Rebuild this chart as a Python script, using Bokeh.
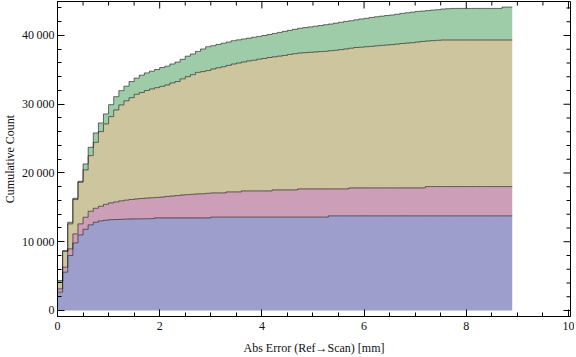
import numpy as np
from bokeh.plotting import figure
from bokeh.models import LinearAxis, SingleIntervalTicker
from bokeh.embed import file_html
from bokeh.resources import INLINE

# ---- data (cumulative counts per 0.1 mm bin, stacked boundaries) ----
bin_width = 0.1

blue_top = [2660, 5567, 7994, 9840, 11003, 11817, 12457, 12834, 13038, 13125,
            13200, 13230, 13260, 13290, 13310, 13330, 13340, 13350, 13360, 13470,
            13470, 13470, 13470, 13470, 13470, 13470, 13470, 13470, 13470, 13470,
            13580, 13580, 13580, 13580, 13580, 13580, 13580, 13580, 13580, 13580,
            13580, 13580, 13580, 13580, 13580, 13580, 13580, 13580, 13580, 13580,
            13580, 13580, 13580, 13770, 13770, 13770, 13770, 13770, 13770, 13770,
            13770, 13770, 13770, 13770, 13770, 13770, 13770, 13770, 13770, 13770,
            13770, 13770, 13770, 13770, 13770, 13770, 13770, 13770, 13770, 13770,
            13770, 13770, 13770, 13770, 13770, 13770, 13770, 13770, 13770]

pink_top = [3150, 6295, 8968, 11148, 12602, 13562, 14434, 14870, 15160, 15451,
            15654, 15800, 15950, 16050, 16150, 16230, 16290, 16350, 16400, 16450,
            16500, 16600, 16650, 16720, 16800, 16850, 16900, 16960, 16980, 17050,
            17105, 17105, 17105, 17250, 17250, 17250, 17396, 17396, 17396, 17396,
            17396, 17396, 17541, 17541, 17541, 17541, 17541, 17687, 17687, 17687,
            17687, 17687, 17687, 17687, 17687, 17687, 17687, 17830, 17830, 17830,
            17830, 17830, 17830, 17830, 17830, 17830, 17830, 17830, 17830, 17830,
            17830, 17830, 18023, 18023, 18023, 18023, 18023, 18023, 18023, 18023,
            18023, 18023, 18023, 18023, 18023, 18023, 18023, 18023, 18023]

tan_top = [4113, 8576, 12602, 16134, 18648, 20450, 22529, 24463, 26018, 27138,
           28198, 29172, 29898, 30500, 30950, 31450, 31700, 32000, 32224, 32413,
           32602, 32806, 33100, 33300, 33700, 34012, 34303, 34637, 34750, 34900,
           35130, 35300, 35450, 35650, 35850, 36000, 36150, 36300, 36400, 36550,
           36650, 36800, 36900, 37000, 37100, 37250, 37350, 37450, 37500, 37550,
           37600, 37650, 37700, 37790, 37850, 37950, 38040, 38150, 38250, 38300,
           38370, 38420, 38500, 38560, 38620, 38670, 38750, 38830, 38900, 38950,
           39050, 39140, 39200, 39250, 39300, 39344, 39344, 39344, 39344, 39344,
           39344, 39344, 39344, 39344, 39344, 39344, 39344, 39344, 39344]

green_top = [4360, 8721, 12834, 16323, 18794, 21322, 23736, 25829, 27283, 28591,
             29942, 31105, 31977, 32630, 33300, 33800, 34230, 34560, 34810, 35050,
             35340, 35540, 35858, 36140, 36530, 37000, 37312, 37690, 38040, 38372,
             38517, 38700, 38880, 39050, 39244, 39370, 39500, 39620, 39750, 39870,
             40000, 40150, 40300, 40450, 40600, 40750, 40900, 41050, 41150, 41250,
             41350, 41450, 41570, 41670, 41800, 41920, 42049, 42150, 42280, 42398,
             42500, 42631, 42720, 42820, 42900, 42980, 43100, 43213, 43300, 43400,
             43503, 43550, 43620, 43700, 43750, 43852, 43900, 43940, 43940, 43940,
             43940, 43940, 43940, 43940, 43940, 43940, 43940, 44140, 44140]

layer_colors = ["#9E9ECC", "#CC9EB8", "#CCC59E", "#9ECCA9"]

y_tick_values = [0, 10000, 20000, 30000, 40000]
y_tick_labels = ["0", "10\u2009000", "20\u2009000", "30\u2009000", "40\u2009000"]

x_label = "Abs Error (Ref\u2192Scan) [mm]"
y_label = "Cumulative Count"

X_START, X_END = 0, 10.04
Y_START, Y_END = -873, 44945
X_MAJOR, X_MINOR = 2, 0.5
Y_MAJOR, Y_MINOR = 10000, 2000

# ---- figure ----
FONT = "Liberation Serif"
p = figure(width=574, height=357, x_range=(X_START, X_END), y_range=(Y_START, Y_END),
           output_backend="svg", toolbar_location=None,
           min_border_left=56, min_border_right=4, min_border_top=1,
           min_border_bottom=41, x_axis_location=None, y_axis_location=None)
p.xgrid.visible = False
p.ygrid.visible = False
p.outline_line_color = "black"
p.outline_line_alpha = 1.0
p.background_fill_color = "white"

n = len(blue_top)
edges = np.round(np.arange(n + 1) * bin_width, 6)

def ext(v):
    return list(v) + [v[-1]]

zeros = [0] * (n + 1)
bounds = [zeros, ext(blue_top), ext(pink_top), ext(tan_top), ext(green_top)]

for i in range(4):
    p.varea_step(x=edges, y1=bounds[i], y2=bounds[i + 1], step_mode="after",
                 fill_color=layer_colors[i], fill_alpha=1.0)
for i in range(1, 5):
    p.step(x=edges, y=bounds[i], mode="after", line_color="black",
           line_alpha=0.55, line_width=1)

# ---- frame ticks on top and right (inside), as dash markers clipped by the frame ----
xt_all = np.round(np.arange(0, X_END + 1e-9, X_MINOR), 6)
xt_major = [v for v in xt_all if abs(v / X_MAJOR - round(v / X_MAJOR)) < 1e-6]
xt_minor = [v for v in xt_all if v not in xt_major]
yt_all = np.arange(0, Y_END, Y_MINOR)
yt_major = [v for v in yt_all if v % Y_MAJOR == 0]
yt_minor = [v for v in yt_all if v % Y_MAJOR != 0]

p.scatter(x=xt_major, y=[Y_END] * len(xt_major), marker="dash", angle=np.pi / 2,
          size=14, line_color="black", line_width=1)
p.scatter(x=xt_minor, y=[Y_END] * len(xt_minor), marker="dash", angle=np.pi / 2,
          size=8, line_color="black", line_width=1)
p.scatter(x=[X_END] * len(yt_major), y=yt_major, marker="dash",
          size=14, line_color="black", line_width=1)
p.scatter(x=[X_END] * len(yt_minor), y=yt_minor, marker="dash",
          size=8, line_color="black", line_width=1)

def style_axis(ax):
    ax.axis_line_color = "black"
    ax.major_tick_line_color = "black"
    ax.minor_tick_line_color = "black"
    ax.major_tick_in = 7
    ax.major_tick_out = 0
    ax.minor_tick_in = 4
    ax.minor_tick_out = 0
    ax.major_label_text_font = FONT
    ax.major_label_text_color = "#111111"
    ax.major_label_text_font_size = "12px"
    ax.axis_label_text_font = FONT
    ax.axis_label_text_font_style = "normal"
    ax.axis_label_text_color = "#111111"
    ax.axis_label_text_font_size = "12px"

bottom = LinearAxis(ticker=SingleIntervalTicker(interval=X_MAJOR, num_minor_ticks=4),
                    axis_label=x_label)
style_axis(bottom)
bottom.major_label_standoff = 5
bottom.axis_label_standoff = 8
p.add_layout(bottom, "below")

left = LinearAxis(ticker=SingleIntervalTicker(interval=Y_MAJOR, num_minor_ticks=5),
                  axis_label=y_label)
style_axis(left)
left.major_label_overrides = {v: s for v, s in zip(y_tick_values, y_tick_labels)}
left.major_label_standoff = 3
left.axis_label_standoff = 2
p.add_layout(left, "left")

open("out.html", "w").write(file_html(p, INLINE))
